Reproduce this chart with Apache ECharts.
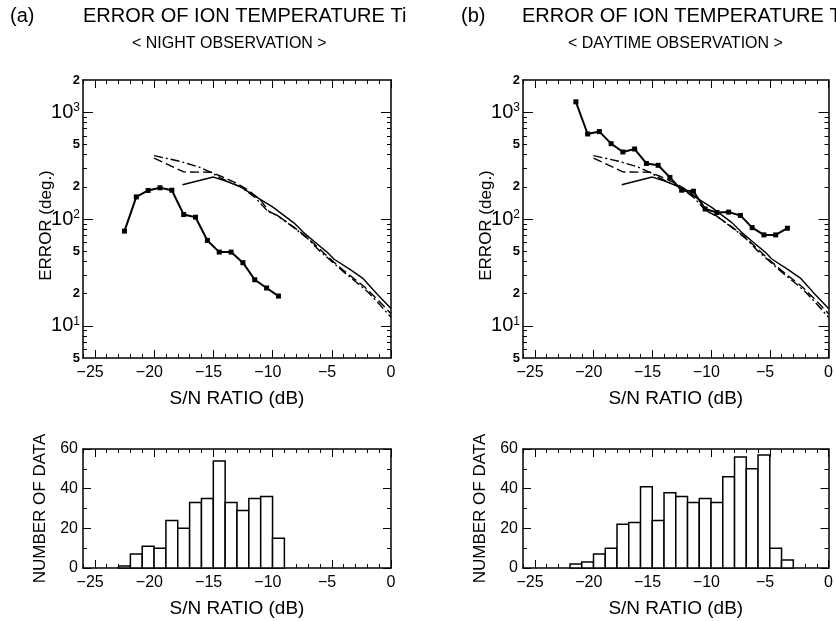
<!DOCTYPE html>
<html><head><meta charset="utf-8">
<script src="https://cdn.jsdelivr.net/npm/echarts@6/dist/echarts.min.js"></script>
<style>html,body{margin:0;padding:0;background:#fff}#c{width:836px;height:621px}</style>
</head><body><div id="c"></div>
<script>
// ---------- data ----------
const nightBinStart = [-23,-22,-21,-20,-19,-18,-17,-16,-15,-14,-13,-12,-11,-10];
const nightCounts   = [1,7,11,10,24,20,33,35,54,33,29,35,36,15];
const nightSN  = [-22.5,-21.5,-20.5,-19.5,-18.5,-17.5,-16.5,-15.5,-14.5,-13.5,-12.5,-11.5,-10.5,-9.5];
const nightErr = [77,161,185,196,186,110,104,63,49,49,39,27,22.6,19];

const dayBinStart = [-22,-21,-20,-19,-18,-17,-16,-15,-14,-13,-12,-11,-10,-9,-8,-7,-6,-5,-4];
const dayCounts   = [2,3,7,10,22,23,41,24,38,36,33,35,33,46,56,50,57,10,4];
const daySN  = [-21.5,-20.5,-19.5,-18.5,-17.5,-16.5,-15.5,-14.5,-13.5,-12.5,-11.5,-10.5,-9.5,-8.5,-7.5,-6.5,-5.5,-4.5,-3.5];
const dayErr = [1250,625,658,507,424,452,331,318,245,186,182,124,115,116,108,83,71,71,82];

const solidSN  = [-17.6,-15,-14,-12.7,-11,-10,-8.2,-7.4,-6.2,-5.4,-4.8,-3.5,-2.4,-1.2,0];
const solidErr = [209,247,228,200,152,130,92,75,58,49,42,34,28,20,14.5];
const dashSN   = [-20,-19,-17.5,-15.2,-14.3,-13,-12,-11,-10.3,-9.5,-8.2,-7,-6,-5,-4,-3,-2.2,-1,0];
const dashErr  = [372,330,276,274,250,215,185,150,118,106,84,66,52,41,33,27,23,17,13];
const dotSN    = [-20,-17.8,-16.2,-15.2,-14.4,-12.7,-11.5,-10.4,-9.6,-8.2,-7,-6,-5,-4,-3,-2,-1,0];
const dotErr   = [392,346,306,273,242,200,160,118,108,83,65,50,40,32,26,21,16,12];

const xTickLabels     = [-25,-20,-15,-10,-5,0];
const errTickLabels   = [5,10,20,50,100,200,500,1000,2000];
const errMajorTicks   = [10,100,1000];
const errMinorTicks   = [6,7,8,9,20,30,40,50,60,70,80,90,200,300,400,500,600,700,800,900];
const countTickLabels = [0,20,40,60];

// ---------- helpers ----------
const FONT = 'Liberation Sans';
const BLACK = '#000';
const grids = [
  {left:83,  top:80,  width:308, height:278},
  {left:523, top:80,  width:308, height:278},
  {left:83,  top:449, width:308, height:119},
  {left:523, top:449, width:308, height:119}
];
const xAxes = [], yAxes = [];
const lineOn  = {onZero:false, lineStyle:{color:BLACK, width:1.5}};
const lineOff = {onZero:false, show:false};
function xFmt(v) {
  // digits centred on the tick, minus sign hanging to the left
  return v < 0 ? '{d|\u2212' + Math.abs(v) + '}{h|\u2212}' : '{d|' + v + '}';
}
const xRich = {d:{fontFamily:FONT, fontSize:16, color:BLACK}, h:{fontFamily:FONT, fontSize:16, color:'rgba(0,0,0,0)'}};
function addX(gi) {
  const base = {gridIndex:gi, type:'value', min:-26, max:0, splitLine:{show:false}};
  const idx = xAxes.length;
  xAxes.push(Object.assign({}, base, {position:'bottom', interval:1,
    axisLine:lineOn, axisTick:{inside:true, length:4, lineStyle:{color:BLACK}},
    axisLabel:{customValues:xTickLabels, formatter:xFmt, rich:xRich, margin:7},
    name:'S/N RATIO (dB)', nameLocation:'middle', nameGap:31, nameMoveOverlap:false,
    nameTextStyle:{color:BLACK, fontFamily:FONT, fontSize:19}}));
  xAxes.push(Object.assign({}, base, {position:'bottom', axisLine:lineOff,
    axisTick:{inside:true, length:8, customValues:xTickLabels, lineStyle:{color:BLACK}}, axisLabel:{show:false}}));
  xAxes.push(Object.assign({}, base, {position:'top', interval:1,
    axisLine:lineOn, axisTick:{inside:true, length:4, lineStyle:{color:BLACK}}, axisLabel:{show:false}}));
  xAxes.push(Object.assign({}, base, {position:'top', axisLine:lineOff,
    axisTick:{inside:true, length:8, customValues:xTickLabels, lineStyle:{color:BLACK}}, axisLabel:{show:false}}));
  return idx;
}
function logFmt(v) {
  const e = Math.round(Math.log10(v));
  if (Math.abs(v - Math.pow(10, e)) < 1e-6) return '{b|10}{s|' + e + '}';
  const m = Math.round(v / Math.pow(10, Math.floor(Math.log10(v) + 1e-9)));
  return '{m|' + m + '}';
}
function addYLog(gi) {
  const base = {gridIndex:gi, type:'log', logBase:10, min:5, max:2000, splitLine:{show:false}};
  const idx = yAxes.length;
  yAxes.push(Object.assign({}, base, {position:'left',
    axisLine:lineOn, axisTick:{inside:true, length:10, customValues:errMajorTicks, lineStyle:{color:BLACK}},
    axisLabel:{customValues:errTickLabels, formatter:logFmt, margin:3,
      rich:{b:{fontFamily:FONT, fontSize:20, color:BLACK},
            s:{fontFamily:FONT, fontSize:12, color:BLACK, verticalAlign:'top'},
            m:{fontFamily:FONT, fontSize:13, fontWeight:'bold', color:BLACK}}},
    name:'ERROR (deg.)', nameLocation:'middle', nameGap:28, nameRotate:90, nameMoveOverlap:false,
    nameTextStyle:{color:BLACK, fontFamily:FONT, fontSize:17, padding:[0,13,0,0]}}));
  yAxes.push(Object.assign({}, base, {position:'left', axisLine:lineOff,
    axisTick:{inside:true, length:4, customValues:errMinorTicks, lineStyle:{color:BLACK}}, axisLabel:{show:false}}));
  yAxes.push(Object.assign({}, base, {position:'right',
    axisLine:lineOn, axisTick:{inside:true, length:10, customValues:errMajorTicks, lineStyle:{color:BLACK}}, axisLabel:{show:false}}));
  yAxes.push(Object.assign({}, base, {position:'right', axisLine:lineOff,
    axisTick:{inside:true, length:4, customValues:errMinorTicks, lineStyle:{color:BLACK}}, axisLabel:{show:false}}));
  return idx;
}
function addYCount(gi) {
  const base = {gridIndex:gi, type:'value', min:0, max:60, splitLine:{show:false}};
  const idx = yAxes.length;
  yAxes.push(Object.assign({}, base, {position:'left', interval:10,
    axisLine:lineOn, axisTick:{inside:true, length:4, lineStyle:{color:BLACK}},
    axisLabel:{customValues:countTickLabels, color:BLACK, fontFamily:FONT, fontSize:16, margin:5},
    name:'NUMBER OF DATA', nameLocation:'middle', nameGap:34, nameRotate:90, nameMoveOverlap:false,
    nameTextStyle:{color:BLACK, fontFamily:FONT, fontSize:17}}));
  yAxes.push(Object.assign({}, base, {position:'left', axisLine:lineOff,
    axisTick:{inside:true, length:8, customValues:countTickLabels, lineStyle:{color:BLACK}}, axisLabel:{show:false}}));
  yAxes.push(Object.assign({}, base, {position:'right', interval:10,
    axisLine:lineOn, axisTick:{inside:true, length:4, lineStyle:{color:BLACK}}, axisLabel:{show:false}}));
  yAxes.push(Object.assign({}, base, {position:'right', axisLine:lineOff,
    axisTick:{inside:true, length:8, customValues:countTickLabels, lineStyle:{color:BLACK}}, axisLabel:{show:false}}));
  return idx;
}

const xa = [addX(0), addX(1), addX(2), addX(3)];
const ya = [addYLog(0), addYLog(1), addYCount(2), addYCount(3)];

const zip = (a, b) => a.map((v, i) => [v, b[i]]);
function theory(gi) {
  const common = {type:'line', xAxisIndex:xa[gi], yAxisIndex:ya[gi], showSymbol:false, symbol:'none', silent:true};
  return [
    Object.assign({}, common, {data:zip(solidSN, solidErr), lineStyle:{color:BLACK, width:1.4, type:'solid'}}),
    Object.assign({}, common, {data:zip(dashSN, dashErr), lineStyle:{color:BLACK, width:1.4, type:[9,4]}}),
    Object.assign({}, common, {data:zip(dotSN, dotErr), lineStyle:{color:BLACK, width:1.4, type:[9,3,2,3]}})
  ];
}
function measured(gi, sn, err) {
  return {type:'line', xAxisIndex:xa[gi], yAxisIndex:ya[gi], data:zip(sn, err),
    symbol:'rect', symbolSize:5, itemStyle:{color:BLACK}, lineStyle:{color:BLACK, width:2}};
}
function hist(gi, starts, counts) {
  return {type:'custom', xAxisIndex:xa[gi], yAxisIndex:ya[gi],
    data: starts.map((s, i) => [s, s + 1, counts[i]]),
    renderItem: function (params, api) {
      const p0 = api.coord([api.value(0), api.value(2)]);
      const p1 = api.coord([api.value(1), 0]);
      return {type:'rect', shape:{x:p0[0], y:p0[1], width:p1[0]-p0[0], height:p1[1]-p0[1]},
        style:{fill:'#fff', stroke:BLACK, lineWidth:1.5}};
    }};
}

const tStyle = (size) => ({color:BLACK, fontFamily:FONT, fontSize:size, fontWeight:'normal'});
const option = {
  animation:false,
  backgroundColor:'#fff',
  title:[
    {text:'(a)', left:10, top:6, padding:0, textStyle:tStyle(20)},
    {text:'ERROR OF ION TEMPERATURE Ti', left:83, top:6, padding:0, textStyle:tStyle(20)},
    {text:'< NIGHT OBSERVATION >', left:132, top:36, padding:0, textStyle:tStyle(16)},
    {text:'(b)', left:461, top:6, padding:0, textStyle:tStyle(20)},
    {text:'ERROR OF ION TEMPERATURE Ti', left:522, top:6, padding:0, textStyle:tStyle(20)},
    {text:'< DAYTIME OBSERVATION >', left:568, top:36, padding:0, textStyle:tStyle(16)}
  ],
  grid: grids,
  xAxis: xAxes,
  yAxis: yAxes,
  series: [].concat(
    theory(0), [measured(0, nightSN, nightErr)],
    theory(1), [measured(1, daySN, dayErr)],
    [hist(2, nightBinStart, nightCounts), hist(3, dayBinStart, dayCounts)]
  )
};
const chart = echarts.init(document.getElementById('c'), null, {renderer:'canvas'});
chart.setOption(option);
</script></body></html>
